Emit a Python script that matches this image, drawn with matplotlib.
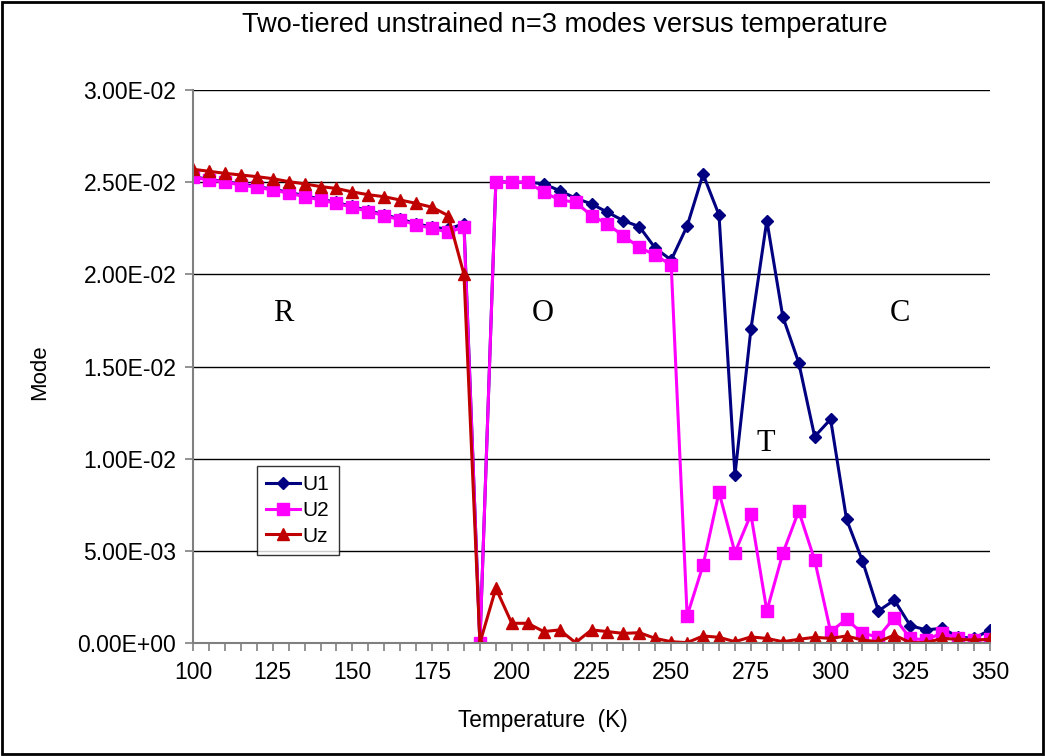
import matplotlib
matplotlib.use("Agg")
import matplotlib.pyplot as plt
from matplotlib.ticker import FuncFormatter, MultipleLocator
from matplotlib.patches import Rectangle

temperature = list(range(100, 355, 5))

u1 = [2.53, 2.515, 2.503, 2.49, 2.476, 2.462, 2.445, 2.427, 2.408, 2.39, 2.368, 2.345,
      2.324, 2.30, 2.275, 2.256, 2.245, 2.275, 0.0,
      2.503, 2.50, 2.50, 2.491, 2.454, 2.413, 2.382, 2.337, 2.291, 2.259, 2.142, 2.078,
      2.262, 2.543, 2.322, 0.912, 1.702, 2.292, 1.771, 1.521, 1.12, 1.214, 0.671, 0.445,
      0.174, 0.233, 0.094, 0.071, 0.08, 0.033, 0.025, 0.071]
u2 = [2.527, 2.512, 2.50, 2.485, 2.472, 2.458, 2.44, 2.422, 2.403, 2.385, 2.364, 2.34,
      2.319, 2.295, 2.268, 2.25, 2.228, 2.256, 0.0,
      2.50, 2.50, 2.50, 2.445, 2.404, 2.391, 2.319, 2.273, 2.208, 2.147, 2.104, 2.05,
      0.147, 0.423, 0.818, 0.49, 0.698, 0.174, 0.486, 0.716, 0.45, 0.062, 0.129, 0.052,
      0.033, 0.138, 0.025, 0.016, 0.056, 0.025, 0.016, 0.02]
uz = [2.57, 2.559, 2.548, 2.539, 2.53, 2.519, 2.503, 2.491, 2.476, 2.466, 2.447, 2.432,
      2.421, 2.403, 2.385, 2.364, 2.319, 2.00, 0.0,
      0.297, 0.107, 0.107, 0.062, 0.071, 0.002, 0.071, 0.062, 0.052, 0.056, 0.025, 0.007,
      0.002, 0.038, 0.031, 0.007, 0.033, 0.025, 0.007, 0.02, 0.031, 0.025, 0.038, 0.016,
      0.007, 0.043, 0.002, 0.002, 0.025, 0.02, 0.016, 0.02]
scale = 1e-2
u1 = [v * scale for v in u1]
u2 = [v * scale for v in u2]
uz = [v * scale for v in uz]

phase_labels = ["R", "O", "T", "C"]
phase_x = [128.2, 209.8, 279.7, 321.8]
phase_y = [1.79e-2, 1.79e-2, 1.08e-2, 1.79e-2]

plt.rcParams['font.family'] = ['Liberation Sans', 'DejaVu Sans']

fig = plt.figure(figsize=(10.45, 7.56), dpi=100)
ax = fig.add_axes([193/1045, 1 - 643/756, (990-193)/1045, (643-90)/756])

ax.plot(temperature, u1, color='#000080', marker='D', markersize=6.5, lw=2.2, label='U1')
ax.plot(temperature, u2, color='#FF00FF', marker='s', markersize=8, lw=2.2, label='U2')
ax.plot(temperature, uz, color='#C00000', marker='^', markersize=8.5, lw=2.2, label='Uz')

ax.set_xlim(100, 350)
ax.set_ylim(0, 0.03)
ax.xaxis.set_major_locator(MultipleLocator(25))
ax.xaxis.set_minor_locator(MultipleLocator(5))
ax.yaxis.set_major_locator(MultipleLocator(0.005))
ax.yaxis.set_major_formatter(FuncFormatter(lambda v, p: f"{v:.2E}"))
ax.grid(axis='y', color='black', lw=1)
ax.set_axisbelow(True)
for s in ['top', 'right']:
    ax.spines[s].set_visible(False)
for s in ['left', 'bottom']:
    ax.spines[s].set_color('#808080')
    ax.spines[s].set_linewidth(1.5)
ax.tick_params(axis='both', which='major', labelsize=16.5, color='#808080', length=6, width=1.2)
ax.tick_params(axis='x', which='minor', color='#808080', length=6, width=1.2)
ax.tick_params(axis='x', pad=7)
ax.tick_params(axis='y', pad=6)

for lab, x, y in zip(phase_labels, phase_x, phase_y):
    ax.text(x, y, lab, fontsize=22, family='Liberation Serif', ha='center', va='center')

leg = ax.legend(loc='upper left', bbox_to_anchor=((257-193)/797, (643-466)/553),
                fontsize=15, frameon=True, fancybox=False, borderaxespad=0,
                handlelength=1.6, handletextpad=0.15, borderpad=0.45, labelspacing=0.32)
leg.get_frame().set_edgecolor('black')
leg.get_frame().set_linewidth(1)

fig.text(565/1045, 1 - 25/756, "Two-tiered unstrained n=3 modes versus temperature",
         ha='center', va='center', fontsize=19.5)
fig.text(543/1045, 1 - 720/756, "Temperature  (K)", ha='center', va='center', fontsize=16.3)
fig.text(40/1045, 1 - 372/756, "Mode", ha='center', va='center', fontsize=16, rotation=90)

fig.patches.append(Rectangle((0.002, 0.003), 0.996, 0.994, transform=fig.transFigure,
                             fill=False, edgecolor='black', lw=2))

fig.savefig("out.png", dpi=100)
